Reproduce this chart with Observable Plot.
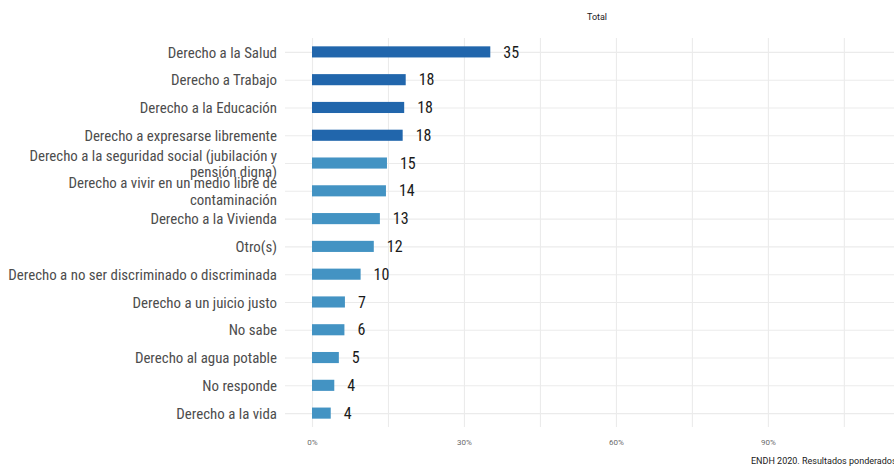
<!DOCTYPE html>
<html><head><meta charset="utf-8">
<script src="https://cdn.jsdelivr.net/npm/d3@7"></script>
<script src="https://cdn.jsdelivr.net/npm/@observablehq/plot@0.6"></script>
<style>
body{margin:0;background:#fff;width:894px;height:468px;overflow:hidden;position:relative;font-family:Roboto,sans-serif}
#title{height:28px;position:relative}
#title span{position:absolute;left:597px;top:12px;transform:translateX(-50%);font-size:9px;color:#1a1a1a;font-family:Roboto,sans-serif}
#caption{position:absolute;left:751px;top:456px;font-size:9px;white-space:nowrap;color:#1a1a1a;font-family:Roboto,sans-serif}
#chart svg{display:block}
</style></head><body>
<div id="title"><span>Total</span></div>
<div id="chart"></div>
<div id="caption">ENDH 2020. Resultados ponderados</div>
<script>
const categories = [
  "Derecho a la Salud",
  "Derecho a Trabajo",
  "Derecho a la Educación",
  "Derecho a expresarse libremente",
  "Derecho a la seguridad social (jubilación y pensión digna)",
  "Derecho a vivir en un medio libre de contaminación",
  "Derecho a la Vivienda",
  "Otro(s)",
  "Derecho a no ser discriminado o discriminada",
  "Derecho a un juicio justo",
  "No sabe",
  "Derecho al agua potable",
  "No responde",
  "Derecho a la vida"
];
const categoryLabels = [
  "Derecho a la Salud",
  "Derecho a Trabajo",
  "Derecho a la Educación",
  "Derecho a expresarse libremente",
  "Derecho a la seguridad social (jubilación y\npensión digna)",
  "Derecho a vivir en un medio libre de\ncontaminación",
  "Derecho a la Vivienda",
  "Otro(s)",
  "Derecho a no ser discriminado o discriminada",
  "Derecho a un juicio justo",
  "No sabe",
  "Derecho al agua potable",
  "No responde",
  "Derecho a la vida"
];
const values = [35.2, 18.5, 18.2, 17.9, 14.8, 14.6, 13.4, 12.2, 9.6, 6.5, 6.4, 5.3, 4.4, 3.7];
const valueLabels = ["35", "18", "18", "18", "15", "14", "13", "12", "10", "7", "6", "5", "4", "4"];
const groups = ["top", "top", "top", "top", "rest", "rest", "rest", "rest", "rest", "rest", "rest", "rest", "rest", "rest"];
const gridTicks = [0, 15, 30, 45, 60, 75, 90, 105];
const labelTicks = [0, 30, 60, 90];

const data = categories.map((c, i) => ({cat: c, value: values[i], label: valueLabels[i], tick: categoryLabels[i], group: groups[i]}));
const condensed = "'Roboto Condensed','Liberation Sans Narrow','DejaVu Sans Condensed',Roboto,sans-serif";

const chart = Plot.plot({
  width: 894, height: 422,
  marginLeft: 285, marginRight: 0, marginTop: 10, marginBottom: 23,
  x: {domain: [-5.33, 114.9], label: null},
  y: {domain: categories, paddingInner: 0.6, paddingOuter: 0.3, round: false, label: null, axis: null},
  color: {domain: ["top", "rest"], range: ["#2166ac", "#4393c3"]},
  style: {fontFamily: condensed, background: "white", overflow: "visible"},
  marks: [
    Plot.gridX(gridTicks, {stroke: "#ebebeb", strokeOpacity: 1, strokeWidth: 1.1}),
    Plot.gridY({stroke: "#ebebeb", strokeOpacity: 1, strokeWidth: 1.1}),
    Plot.axisX(labelTicks, {tickSize: 0, tickPadding: 12, fontSize: 8, fontFamily: "Roboto, sans-serif", fill: "#6b6b6b", tickFormat: d => d + "%"}),
    Plot.barX(data, {x: "value", y: "cat", fill: "group"}),
    Plot.text(data, {x: "value", y: "cat", text: "label", textAnchor: "start", dx: 12.5, fontSize: 16, fill: "#1a1a1a"}),
    Plot.text(data, {y: "cat", text: "tick", frameAnchor: "left", textAnchor: "end", dx: -8.5, fontSize: 14.9, lineHeight: 1.08, fill: "#4d4d4d"})
  ]
});
document.getElementById("chart").appendChild(chart);
</script>
</body></html>
